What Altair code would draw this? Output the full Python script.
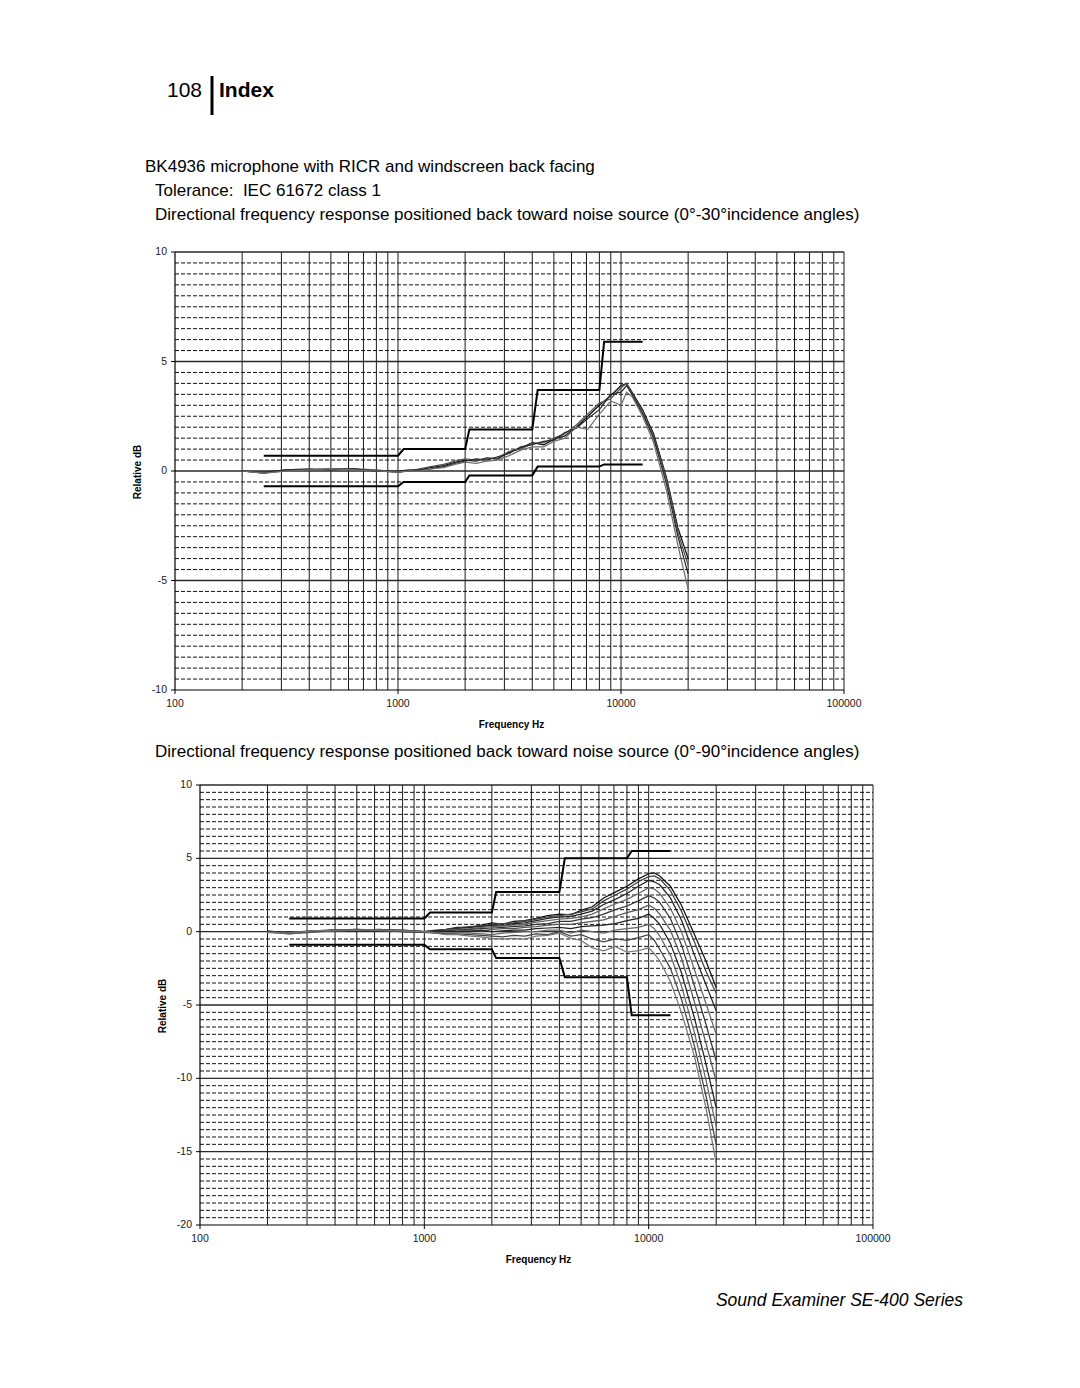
import altair as alt
import pandas as pd

FONT = "Liberation Sans"

# ---------------- data ----------------
FREQ = [200, 250, 315, 400, 500, 630, 800, 1000, 1120, 1250, 1400, 1600, 1800, 2000,
        2240, 2500, 2800, 3150, 3550, 4000, 4500, 5000, 5600, 6300, 7100, 8000, 9000,
        10000, 10600, 11200, 12500, 14000, 16000, 18000, 20000]

# 0-30 degree curves (top chart)
TOP_0 = [0.0, -0.1, 0.05, 0.05, 0.1, 0.1, 0.0, -0.05, 0.0, 0.05, 0.15, 0.25, 0.4, 0.5,
         0.45, 0.6, 0.55, 0.85, 1.05, 1.3, 1.2, 1.45, 1.6, 2.0, 2.5, 3.0, 3.45,
         3.9, 4.0, 3.6, 2.8, 1.7, -0.3, -2.6, -4.0]
TOP_10 = [0.0, -0.1, 0.0, 0.05, 0.1, 0.1, 0.05, -0.05, 0.0, 0.1, 0.2, 0.3, 0.45, 0.55,
          0.5, 0.55, 0.6, 0.9, 1.0, 1.25, 1.3, 1.5, 1.7, 2.1, 2.6, 3.1, 3.3,
          3.8, 4.0, 3.55, 2.7, 1.6, -0.4, -2.8, -4.3]
TOP_20 = [0.0, -0.05, 0.05, 0.1, 0.05, 0.1, 0.0, 0.0, 0.05, 0.05, 0.1, 0.2, 0.35, 0.45,
          0.55, 0.5, 0.65, 0.8, 1.1, 1.2, 1.35, 1.4, 1.75, 1.95, 2.4, 2.8, 3.5,
          3.6, 3.9, 3.5, 2.6, 1.5, -0.6, -3.0, -4.7]
TOP_30 = [0.0, -0.1, 0.0, 0.05, 0.1, 0.05, 0.0, -0.05, 0.0, 0.0, 0.1, 0.15, 0.3, 0.4,
          0.35, 0.45, 0.5, 0.7, 0.95, 1.1, 1.1, 1.35, 1.5, 2.0, 1.9, 2.6, 3.2,
          3.0, 3.6, 3.4, 2.5, 1.3, -0.9, -3.4, -5.4]
TOP_NAMES = ["0", "10", "20", "30"]
TOP_COLORS = ["#111111", "#555555", "#2a2a2a", "#707070"]

# 0-90 degree curves (bottom chart)
BOT_0 = [0.0, -0.1, 0.0, 0.1, 0.1, 0.1, 0.05, 0.0,
         0.05, 0.15, 0.3, 0.3, 0.45, 0.6, 0.5, 0.7, 0.75, 0.9, 1.1, 1.2, 1.15, 1.45, 1.7, 2.3,
         2.7, 3.1, 3.6, 3.95, 4.0, 3.8, 3.1, 1.8, -0.2, -2.0, -3.8]
BOT_10 = [0.0, -0.05, 0.05, 0.1, 0.15, 0.1, 0.0, 0.0,
          0.1, 0.15, 0.25, 0.35, 0.4, 0.5, 0.55, 0.6, 0.7, 0.85, 1.0, 1.1, 1.2, 1.35, 1.55, 2.1,
          2.5, 2.9, 3.4, 3.75, 3.8, 3.6, 2.8, 1.4, -0.7, -2.7, -4.2]
BOT_20 = [0.0, -0.1, 0.0, 0.05, 0.1, 0.15, 0.05, -0.05,
          0.05, 0.1, 0.2, 0.3, 0.35, 0.45, 0.4, 0.55, 0.6, 0.75, 0.9, 1.0, 1.05, 1.2, 1.4, 1.85,
          2.2, 2.6, 3.1, 3.5, 3.4, 3.2, 2.3, 0.8, -1.6, -3.6, -5.4]
BOT_30 = [-0.05, -0.15, 0.0, 0.1, 0.1, 0.1, 0.1, 0.0,
          0.0, 0.1, 0.15, 0.2, 0.3, 0.35, 0.4, 0.45, 0.5, 0.65, 0.75, 0.85, 0.9, 1.0, 1.2, 1.55,
          1.9, 2.2, 2.6, 3.0, 2.9, 2.6, 1.6, 0.0, -2.6, -4.9, -7.0]
BOT_40 = [0.0, -0.1, 0.05, 0.1, 0.1, 0.05, 0.05, 0.0,
          0.0, 0.05, 0.1, 0.15, 0.2, 0.25, 0.3, 0.35, 0.4, 0.5, 0.55, 0.7, 0.7, 0.85, 0.95, 1.2,
          1.5, 1.75, 2.1, 2.45, 2.3, 2.0, 0.9, -0.9, -3.7, -6.3, -8.8]
BOT_50 = [0.0, -0.05, 0.0, 0.05, 0.1, 0.1, 0.0, -0.05,
          -0.05, 0.0, 0.05, 0.1, 0.05, 0.15, 0.2, 0.2, 0.3, 0.35, 0.45, 0.5, 0.5, 0.6, 0.7, 0.8,
          1.05, 1.3, 1.5, 1.8, 1.6, 1.2, 0.1, -1.8, -4.8, -7.6, -10.2]
BOT_60 = [0.05, -0.1, 0.0, 0.1, 0.05, 0.1, 0.1, 0.0,
          0.05, 0.0, 0.0, 0.0, 0.1, 0.0, 0.05, 0.1, 0.1, 0.2, 0.25, 0.3, 0.2, 0.35, 0.4, 0.45,
          0.55, 0.75, 0.9, 1.2, 0.9, 0.5, -0.8, -2.8, -5.9, -9.0, -12.0]
BOT_70 = [0.0, -0.15, -0.05, 0.05, 0.1, 0.1, 0.05, 0.0,
          -0.05, -0.1, -0.05, -0.1, -0.15, -0.2, -0.1, -0.05, 0.0, 0.0, 0.1, 0.1, -0.1, 0.1, 0.0, -0.1,
          0.1, 0.2, 0.3, 0.5, 0.2, -0.3, -1.6, -3.7, -6.9, -10.1, -13.3]
BOT_80 = [0.0, -0.1, 0.0, 0.1, 0.15, 0.05, 0.0, -0.05,
          -0.1, -0.15, -0.15, -0.2, -0.25, -0.3, -0.35, -0.25, -0.3, -0.15, -0.2, 0.0, -0.3, -0.2, -0.5, -0.7,
          -0.5, -0.6, -0.4, -0.2, -0.6, -1.2, -2.5, -4.6, -7.8, -11.2, -14.5]
BOT_90 = [-0.05, -0.1, 0.05, 0.1, 0.1, 0.1, 0.05, 0.0,
          -0.1, -0.2, -0.2, -0.3, -0.35, -0.45, -0.5, -0.45, -0.5, -0.3, -0.25, -0.1, -0.45, -0.6, -1.1, -1.3,
          -1.0, -1.4, -1.3, -1.1, -1.5, -2.0, -3.4, -5.5, -8.5, -12.0, -15.8]
BOT_NAMES = ["0", "10", "20", "30", "40", "50", "60", "70", "80", "90"]
BOT_COLORS = ["#111111", "#444444", "#222222", "#666666", "#333333",
              "#555555", "#222222", "#666666", "#444444", "#777777"]

# IEC 61672 class 1 tolerance limits
TOL_F = [250, 1000, 1060, 2000, 2090, 4000, 4230, 8000, 8400, 12500]
TOP_UPPER = [0.7, 0.7, 1.0, 1.0, 1.9, 1.9, 3.7, 3.7, 5.9, 5.9]
TOP_LOWER = [-0.7, -0.7, -0.5, -0.5, -0.2, -0.2, 0.2, 0.2, 0.3, 0.3]
BOT_UPPER = [0.9, 0.9, 1.3, 1.3, 2.7, 2.7, 5.0, 5.0, 5.5, 5.5]
BOT_LOWER = [-0.9, -0.9, -1.2, -1.2, -1.8, -1.8, -3.1, -3.1, -5.7, -5.7]

X_TICKS = [100, 1000, 10000, 100000]
X_TICK_LABELS = ["100", "1000", "10000", "100000"]
TOP_Y_TICKS = [-10, -5, 0, 5, 10]
TOP_Y_LABELS = ["-10", "-5", "0", "5", "10"]
BOT_Y_TICKS = [-20, -15, -10, -5, 0, 5, 10]
BOT_Y_LABELS = ["-20", "-15", "-10", "-5", "0", "5", "10"]
GRID_F = [m * 10 ** e for e in (2, 3, 4) for m in range(1, 10) if m * 10 ** e > 100] + [100000]

W, H = 1080, 1388


def long_df(freqs, names, series):
    rows = []
    for n, vals in zip(names, series):
        assert len(vals) == len(freqs), (n, len(vals))
        for f, v in zip(freqs, vals):
            rows.append({"f": f, "db": v, "s": n})
    return pd.DataFrame(rows)


def panel(xr, yr, ydom, yticks, ylabels, names, series, colors, upper, lower):
    xs = alt.Scale(type="log", domain=[100, 100000], range=xr, nice=False)
    ys = alt.Scale(domain=ydom, range=yr, nice=False, zero=False)
    lo, hi = ydom
    minor = [v / 2 for v in range(int(lo * 2) + 1, int(hi * 2)) if v % 10 != 0]
    majors = [v for v in yticks if v != lo]
    X = lambda f: alt.X(f, scale=xs, axis=None)
    Y = lambda f: alt.Y(f, scale=ys, axis=None)

    vgrid = alt.Chart(pd.DataFrame({"f": GRID_F, "a": lo, "b": hi})).mark_rule(
        color="#1a1a1a", strokeWidth=1
    ).encode(x=X("f:Q"), y=Y("a:Q"), y2="b:Q")
    hminor = alt.Chart(pd.DataFrame({"d": minor, "a": 100, "b": 100000})).mark_rule(
        color="#111111", strokeWidth=1, strokeDash=[4, 2]
    ).encode(x=X("a:Q"), x2="b:Q", y=Y("d:Q"))
    hmajor = alt.Chart(pd.DataFrame({"d": majors, "a": 100, "b": 100000})).mark_rule(
        color="#2a2a2a", strokeWidth=1.3
    ).encode(x=X("a:Q"), x2="b:Q", y=Y("d:Q"))
    # axis lines
    ydomain = alt.Chart(pd.DataFrame({"f": [100], "a": lo, "b": hi})).mark_rule(
        color="black", strokeWidth=1.2
    ).encode(x=X("f:Q"), y=Y("a:Q"), y2="b:Q")
    xdomain = alt.Chart(pd.DataFrame({"d": [lo], "a": 100, "b": 100000})).mark_rule(
        color="black", strokeWidth=1.2
    ).encode(x=X("a:Q"), x2="b:Q", y=Y("d:Q"))
    # ticks and labels
    yt = alt.Chart(pd.DataFrame({"v": yticks})).mark_rule(color="black", strokeWidth=1).encode(
        y=Y("v:Q"), x=alt.value(xr[0] - 4), x2=alt.value(xr[0])
    )
    ylab = alt.Chart(pd.DataFrame({"v": yticks, "t": ylabels})).mark_text(
        font=FONT, fontSize=10.5, align="right", baseline="middle", color="#1a1a1a"
    ).encode(y=Y("v:Q"), x=alt.value(xr[0] - 8), text="t:N")
    xt = alt.Chart(pd.DataFrame({"f": X_TICKS})).mark_rule(color="black", strokeWidth=1).encode(
        x=X("f:Q"), y=alt.value(yr[0]), y2=alt.value(yr[0] + 4)
    )
    xlab = alt.Chart(pd.DataFrame({"f": X_TICKS, "t": X_TICK_LABELS})).mark_text(
        font=FONT, fontSize=10.5, align="center", baseline="middle", color="#1a1a1a"
    ).encode(x=X("f:Q"), y=alt.value(yr[0] + 14), text="t:N")
    xtitle = alt.Chart(pd.DataFrame({"t": ["Frequency Hz"]})).mark_text(
        font=FONT, fontSize=10, fontWeight="bold", align="center", baseline="middle", color="black"
    ).encode(x=alt.value((xr[0] + xr[1]) / 2 + 2), y=alt.value(yr[0] + 35), text="t:N")
    ytitle = alt.Chart(pd.DataFrame({"t": ["Relative dB"]})).mark_text(
        font=FONT, fontSize=10, fontWeight="bold", align="center", baseline="middle",
        color="black", angle=270
    ).encode(x=alt.value(xr[0] - 37), y=alt.value((yr[0] + yr[1]) / 2 + 1), text="t:N")

    tol = alt.Chart(long_df(TOL_F, ["upper", "lower"], [upper, lower])).mark_line(
        color="black", strokeWidth=2
    ).encode(x=X("f:Q"), y=Y("db:Q"), detail="s:N")
    curves = alt.Chart(long_df(FREQ, names, series)).mark_line(strokeWidth=1.25).encode(
        x=X("f:Q"), y=Y("db:Q"),
        color=alt.Color("s:N", scale=alt.Scale(domain=names, range=colors), legend=None),
        detail="s:N",
    )
    return alt.layer(vgrid, hminor, hmajor, ydomain, xdomain, yt, ylab, xt, xlab,
                     xtitle, ytitle, tol, curves)


top = panel([175, 844], [690, 252], [-10, 10], TOP_Y_TICKS, TOP_Y_LABELS,
            TOP_NAMES, [TOP_0, TOP_10, TOP_20, TOP_30], TOP_COLORS, TOP_UPPER, TOP_LOWER)
bottom = panel([200, 873], [1225, 785], [-20, 10], BOT_Y_TICKS, BOT_Y_LABELS,
               BOT_NAMES, [BOT_0, BOT_10, BOT_20, BOT_30, BOT_40, BOT_50, BOT_60, BOT_70, BOT_80, BOT_90],
               BOT_COLORS, BOT_UPPER, BOT_LOWER)


def text(s, x, y, size, weight="normal", style="normal", align="left"):
    return alt.Chart(pd.DataFrame({"t": [s]})).mark_text(
        font=FONT, fontSize=size, fontWeight=weight, fontStyle=style, align=align,
        baseline="alphabetic", color="black"
    ).encode(text="t:N", x=alt.value(x), y=alt.value(y))


bar = alt.Chart(pd.DataFrame({"a": [0]})).mark_rule(color="black", strokeWidth=3).encode(
    x=alt.value(212), y=alt.value(76), y2=alt.value(115)
)

texts = [
    text("108", 167, 97, 21),
    bar,
    text("Index", 219, 97, 21, weight="bold"),
    text("BK4936 microphone with RICR and windscreen back facing", 145, 172, 17),
    text("Tolerance:\u00a0\u00a0IEC 61672 class 1", 155, 196, 17),
    text("Directional frequency response positioned back toward noise source (0°-30°incidence angles)", 155, 220, 17),
    text("Directional frequency response positioned back toward noise source (0°-90°incidence angles)", 155, 757, 17),
    text("Sound Examiner SE-400 Series", 963, 1306, 17.5, style="italic", align="right"),
]

chart = alt.layer(top, bottom, *texts).resolve_scale(
    x="independent", y="independent", color="independent"
).properties(
    width=W, height=H, padding=0,
    autosize=alt.AutoSizeParams(type="none"),
    background="white",
).configure_view(stroke=None)

chart.save("out.html", embed_options={"renderer": "svg", "actions": False})
